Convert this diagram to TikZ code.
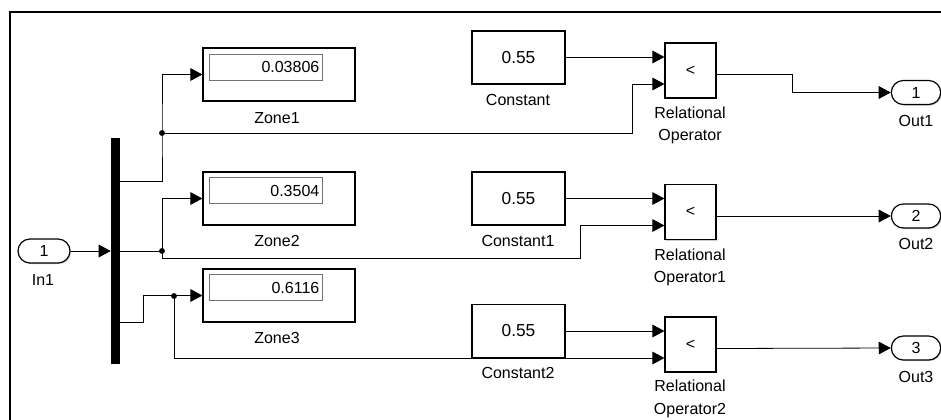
\documentclass[tikz,border=0pt]{standalone}
\usepackage{fontspec}
\setmainfont{Liberation Sans}
\usetikzlibrary{calc,arrows.meta,shadows}
\tikzset{
  sig/.style={line width=0.6pt, -{Triangle[length=9pt,width=9.5pt]}},
  wire/.style={line width=0.6pt},
  blk/.style={draw, line width=0.9pt, fill=white, inner sep=0pt,
    drop shadow={shadow xshift=0.8pt, shadow yshift=-0.8pt, fill=black!35, opacity=0.6}},
  zonebox/.style={blk, minimum width=114pt, minimum height=39.75pt},
  disp/.style={draw=black!55, line width=0.5pt, fill=white, minimum height=19.5pt,
    text width=80pt, inner sep=2.5pt, align=right},
  constbox/.style={blk, minimum width=69.75pt, minimum height=39.75pt, font=\fontsize{13}{15}\selectfont},
  relbox/.style={blk, minimum width=38.25pt, minimum height=41.25pt},
  port/.style={blk, rounded corners=9pt, minimum width=37pt, minimum height=18pt},
  lbl/.style={align=center, inner sep=0pt},
}
\begin{document}
\begin{tikzpicture}[x=0.75pt, y=-0.75pt, font=\fontsize{12}{17}\selectfont]
			%%%%% frame %%%%%
			\useasboundingbox (0,0) rectangle (941,419);
			\draw[line width=1.5pt] (10,440) -- (10,12) -- (960,12);
			
			%%%%% input and bus %%%%%
			\node[port, minimum width=39pt] (in1) at (44,251) {1};
			\node[lbl] (lin1) at (43,280) {In1};
			\node[fill=black, minimum width=6.75pt, minimum height=169.5pt, inner sep=0pt] (bar) at (115.5,251) {};
			
			%%%%% zones %%%%%
			\node[zonebox] (zone1) at (279,74.5) {};
			\node[disp] (d1) at (266,67) {0.03806};
			\node[lbl] (lz1) at (277,118) {Zone1};
			
			\node[zonebox] (zone2) at (279,198.5) {};
			\node[disp] (d2) at (266,190.5) {0.3504};
			\node[lbl] (lz2) at (277,241) {Zone2};
			
			\node[zonebox] (zone3) at (279,295.5) {};
			\node[disp] (d3) at (266,287.5) {0.6116};
			\node[lbl] (lz3) at (277,338) {Zone3};
			
			%%%%% constants %%%%%
			\node[constbox] (con1) at (518.5,57.5) {0.55};
			\node[lbl] (lc1) at (518,100) {Constant};
			\node[constbox] (con2) at (518.5,198.5) {0.55};
			\node[lbl] (lc2) at (518,241) {Constant1};
			\node[constbox] (con3) at (518.5,331) {0.55};
			\node[lbl] (lc3) at (518,373) {Constant2};
			
			%%%%% relational operators %%%%%
			\node[relbox] (rel1) at (690.5,70.5) {<};
			\node[lbl] (lr1) at (690,125.5) {Relational\\Operator};
			\node[relbox] (rel2) at (690.5,212) {<};
			\node[lbl] (lr2) at (690,267.5) {Relational\\Operator1};
			\node[relbox] (rel3) at (690.5,344.5) {<};
			\node[lbl] (lr3) at (690,399) {Relational\\Operator2};
			
			\coordinate (r1a) at ($(rel1.west)+(0,-13.5)$);
			\coordinate (r1b) at ($(rel1.west)+(0,13.5)$);
			\coordinate (r2a) at ($(rel2.west)+(0,-13.5)$);
			\coordinate (r2b) at ($(rel2.west)+(0,13.5)$);
			\coordinate (r3a) at ($(rel3.west)+(0,-13.5)$);
			\coordinate (r3b) at ($(rel3.west)+(0,13.5)$);
			
			%%%%% outputs %%%%%
			\node[port] (out1) at (916,92.5) {1};
			\node[lbl] (lo1) at (916,121) {Out1};
			\node[port] (out2) at (916,216) {2};
			\node[lbl] (lo2) at (916,244) {Out2};
			\node[port] (out3) at (916,348) {3};
			\node[lbl] (lo3) at (916,377) {Out3};
			
			%%%%% signals %%%%%
			\coordinate (b1) at (120,181);
			\coordinate (j1) at (162,133);
			\coordinate (j2) at (162,251);
			\coordinate (b3) at (120,322);
			\coordinate (j3) at (174,296);
			
			\draw[sig] (in1.east) -- (bar.west |- in1);
			
			\draw[sig] (b1) -| (j1) |- (zone1.west);
			\draw[sig] (j1) -- ++(470,0) |- (r1b);
			\fill (j1) circle (2.2pt);
			
			\draw[wire] (bar.east |- j2) -- (j2);
			\draw[sig] (j2) |- (zone2.west);
			\draw[sig] (j2) -- ++(0,7) -- ++(418,0) |- (r2b);
			\fill (j2) circle (2.2pt);
			
			\draw[sig] (b3) -- ++(23,0) |- (zone3.west);
			\draw[sig] (j3) |- (r3b);
			\fill (j3) circle (2.2pt);
			
			\draw[sig] (con1.east |- r1a) -- (r1a);
			\draw[sig] (con2.east |- r2a) -- (r2a);
			\draw[sig] (con3.east |- r3a) -- (r3a);
			
			\draw[sig] ($(rel1.east)+(0,4)$) -- ++(76,0) |- (out1.west);
			\draw[sig] ($(rel2.east)+(0,4)$) -- (out2.west);
			\draw[sig] ($(rel3.east)+(0,4)$) -- (out3.west);
\end{tikzpicture}
\end{document}
